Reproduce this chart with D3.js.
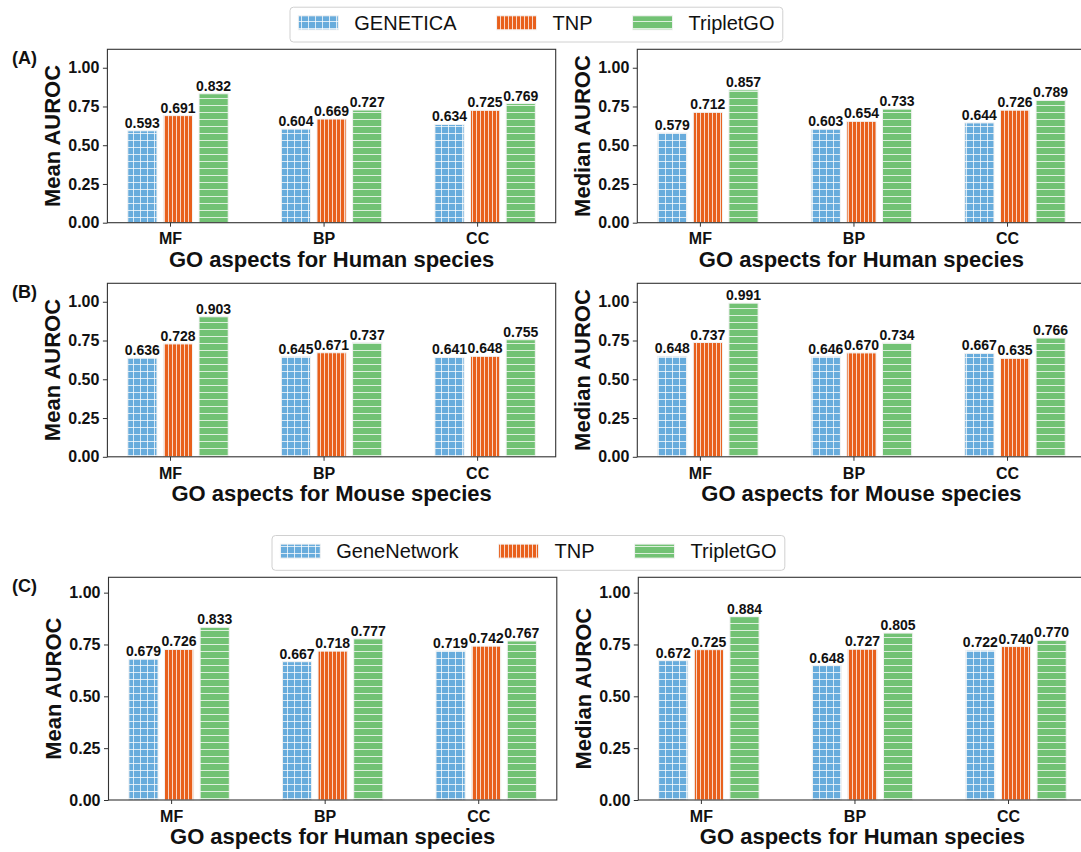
<!DOCTYPE html>
<html>
<head>
<meta charset="utf-8">
<script src="https://cdn.jsdelivr.net/npm/d3@7"></script>
<style>
  body { margin: 0; background: #fff; }
  svg { display: block; }
  text { font-family: "Liberation Sans", Arial, Helvetica, sans-serif; fill: #111; }
</style>
</head>
<body>
<svg id="chart" width="1081" height="852"></svg>
<script>
// ---- data ----
const categories = ["MF", "BP", "CC"];
const yTickValues = [0, 0.25, 0.5, 0.75, 1.0];
const methodsTop = ["GENETICA", "TNP", "TripletGO"];
const methodsBottom = ["GeneNetwork", "TNP", "TripletGO"];

// (A) Human species
const humanMeanGenetica   = [0.593, 0.604, 0.634];
const humanMeanTnp        = [0.691, 0.669, 0.725];
const humanMeanTriplet    = [0.832, 0.727, 0.769];
const humanMedianGenetica = [0.579, 0.603, 0.644];
const humanMedianTnp      = [0.712, 0.654, 0.726];
const humanMedianTriplet  = [0.857, 0.733, 0.789];

// (B) Mouse species
const mouseMeanGenetica   = [0.636, 0.645, 0.641];
const mouseMeanTnp        = [0.728, 0.671, 0.648];
const mouseMeanTriplet    = [0.903, 0.737, 0.755];
const mouseMedianGenetica = [0.648, 0.646, 0.667];
const mouseMedianTnp      = [0.737, 0.670, 0.635];
const mouseMedianTriplet  = [0.991, 0.734, 0.766];

// (C) Human species, GeneNetwork comparison
const humanMeanGeneNetwork   = [0.679, 0.667, 0.719];
const humanMeanTnpC          = [0.726, 0.718, 0.742];
const humanMeanTripletC      = [0.833, 0.777, 0.767];
const humanMedianGeneNetwork = [0.672, 0.648, 0.722];
const humanMedianTnpC        = [0.725, 0.727, 0.740];
const humanMedianTripletC    = [0.884, 0.805, 0.770];

// ---- styling ----
const colors = ["#68acdc", "#e8601c", "#72c274"];
const patternIds = ["hatch-grid", "hatch-vert", "hatch-horiz"];
const barOffsets = [-0.18, 0.052, 0.284];
const barWidth = 0.19;
const plotW = 448.3;
const fontFamily = '"Liberation Sans", Arial, Helvetica, sans-serif';

const svg = d3.select("#chart");
svg.append("rect").attr("width", 1081).attr("height", 852).attr("fill", "#fff");

// hatch patterns: grid, vertical stripes, horizontal stripes
const defs = svg.append("defs");
function makePattern(id, color, w, h, pathD) {
  const p = defs.append("pattern").attr("id", id)
    .attr("patternUnits", "userSpaceOnUse").attr("width", w).attr("height", h);
  p.append("rect").attr("width", w).attr("height", h).attr("fill", color);
  p.append("path").attr("d", pathD).attr("stroke", "#ffffff")
    .attr("stroke-opacity", 0.75).attr("stroke-width", 1).attr("fill", "none");
}
makePattern("hatch-grid", colors[0], 7, 7, "M0 0.5H7M0.5 0V7");
makePattern("hatch-vert", colors[1], 4, 4, "M0.5 0V4");
makePattern("hatch-horiz", colors[2], 7, 7, "M0 0.5H7");

const panels = [
  { label: "(A)", left: 107.4, top: 49.3, bottom: 222.7, yMax: 1.119, yTitle: "Mean AUROC",
    xTitle: "GO aspects for Human species", tickBase: 21.3, titleBase: 43.8,
    series: [humanMeanGenetica, humanMeanTnp, humanMeanTriplet] },
  { label: null, left: 637.3, top: 49.3, bottom: 222.7, yMax: 1.119, yTitle: "Median AUROC",
    xTitle: "GO aspects for Human species", tickBase: 21.3, titleBase: 43.8,
    series: [humanMedianGenetica, humanMedianTnp, humanMedianTriplet] },
  { label: "(B)", left: 107.4, top: 283.3, bottom: 456.8, yMax: 1.119, yTitle: "Mean AUROC",
    xTitle: "GO aspects for Mouse species", tickBase: 21.8, titleBase: 43.8,
    series: [mouseMeanGenetica, mouseMeanTnp, mouseMeanTriplet] },
  { label: null, left: 637.3, top: 283.3, bottom: 456.8, yMax: 1.119, yTitle: "Median AUROC",
    xTitle: "GO aspects for Mouse species", tickBase: 21.8, titleBase: 43.8,
    series: [mouseMedianGenetica, mouseMedianTnp, mouseMedianTriplet] },
  { label: "(C)", left: 108.5, top: 577.3, bottom: 800, yMax: 1.074, yTitle: "Mean AUROC",
    xTitle: "GO aspects for Human species", tickBase: 21.5, titleBase: 44,
    series: [humanMeanGeneNetwork, humanMeanTnpC, humanMeanTripletC] },
  { label: null, left: 638.3, top: 577.3, bottom: 800, yMax: 1.074, yTitle: "Median AUROC",
    xTitle: "GO aspects for Human species", tickBase: 21.5, titleBase: 44,
    series: [humanMedianGeneNetwork, humanMedianTnpC, humanMedianTripletC] }
];

// x limits with 5% padding around the outermost bar edges
const xLo = 0 + barOffsets[0] - barWidth / 2;
const xHi = (categories.length - 1) + barOffsets[2] + barWidth / 2;
const xPad = 0.05 * (xHi - xLo);

function drawPanel(p) {
  const g = svg.append("g");
  const x = d3.scaleLinear().domain([xLo - xPad, xHi + xPad]).range([p.left, p.left + plotW]);
  const y = d3.scaleLinear().domain([0, p.yMax]).range([p.bottom, p.top]);
  const bw = x(barWidth) - x(0);

  p.series.forEach((vals, si) => {
    g.append("g").selectAll("rect").data(vals).join("rect")
      .attr("x", (d, i) => x(i + barOffsets[si]) - bw / 2)
      .attr("width", bw)
      .attr("y", d => y(d))
      .attr("height", d => y(0) - y(d))
      .attr("fill", `url(#${patternIds[si]})`)
      .attr("stroke", "#f2f2f2").attr("stroke-width", 1);
    g.append("g").selectAll("text").data(vals).join("text")
      .attr("x", (d, i) => x(i + barOffsets[si]))
      .attr("y", d => y(d) - 3)
      .attr("text-anchor", "middle")
      .style("font-size", "14px").style("font-weight", "bold")
      .text(d => d.toFixed(3));
  });

  // y axis
  const ya = g.append("g").attr("transform", `translate(${p.left},0)`)
    .call(d3.axisLeft(y).tickValues(yTickValues).tickFormat(d3.format(".2f"))
      .tickSize(4.5).tickPadding(3.5));
  ya.select(".domain").remove();
  ya.selectAll(".tick line").attr("stroke", "#333");
  ya.selectAll("text").style("font-size", "16px").style("font-weight", "bold")
    .style("font-family", fontFamily).attr("fill", "#111");

  // x axis
  const xa = g.append("g").attr("transform", `translate(0,${p.bottom})`)
    .call(d3.axisBottom(x).tickValues(d3.range(categories.length))
      .tickFormat(i => categories[i]).tickSize(4));
  xa.select(".domain").remove();
  xa.selectAll(".tick line").attr("stroke", "#333");
  xa.selectAll("text").attr("y", p.tickBase).attr("dy", null)
    .style("font-size", "16px").style("font-weight", "bold")
    .style("font-family", fontFamily).attr("fill", "#111");

  // frame
  g.append("rect").attr("x", p.left).attr("y", p.top)
    .attr("width", plotW).attr("height", p.bottom - p.top)
    .attr("fill", "none").attr("stroke", "#333").attr("stroke-width", 1.1);

  // titles
  g.append("text")
    .attr("transform", `translate(${p.left - 47.5},${(p.top + p.bottom) / 2}) rotate(-90)`)
    .attr("text-anchor", "middle")
    .style("font-size", "22px").style("font-weight", "bold")
    .text(p.yTitle);
  g.append("text")
    .attr("x", p.left + plotW / 2).attr("y", p.bottom + p.titleBase)
    .attr("text-anchor", "middle")
    .style("font-size", "22px").style("font-weight", "bold")
    .text(p.xTitle);

  if (p.label) {
    g.append("text").attr("x", 12).attr("y", p.top + 14.5)
      .style("font-size", "18px").style("font-weight", "bold")
      .text(p.label);
  }
}

panels.forEach(drawPanel);

// legends
function drawLegend(left, top, names) {
  const g = svg.append("g");
  const box = g.append("rect");
  let cx = left + 8.3;
  names.forEach((name, i) => {
    g.append("rect").attr("x", cx).attr("y", top + 8.6).attr("width", 40).attr("height", 14)
      .attr("fill", `url(#${patternIds[i]})`).attr("stroke", "#f2f2f2").attr("stroke-width", 1);
    const t = g.append("text").attr("x", cx + 56).attr("y", top + 22.6)
      .style("font-size", "20px").text(name);
    const w = t.node().getComputedTextLength();
    cx = cx + 56 + w + (i < names.length - 1 ? 40 : 0);
  });
  box.attr("x", left).attr("y", top).attr("width", cx + 8.3 - left).attr("height", 34.8)
    .attr("rx", 3.5).attr("fill", "#fff").attr("stroke", "#d0d0d0").attr("stroke-width", 1);
}
drawLegend(290, 7.2, methodsTop);
drawLegend(272, 535.5, methodsBottom);
</script>
</body>
</html>
